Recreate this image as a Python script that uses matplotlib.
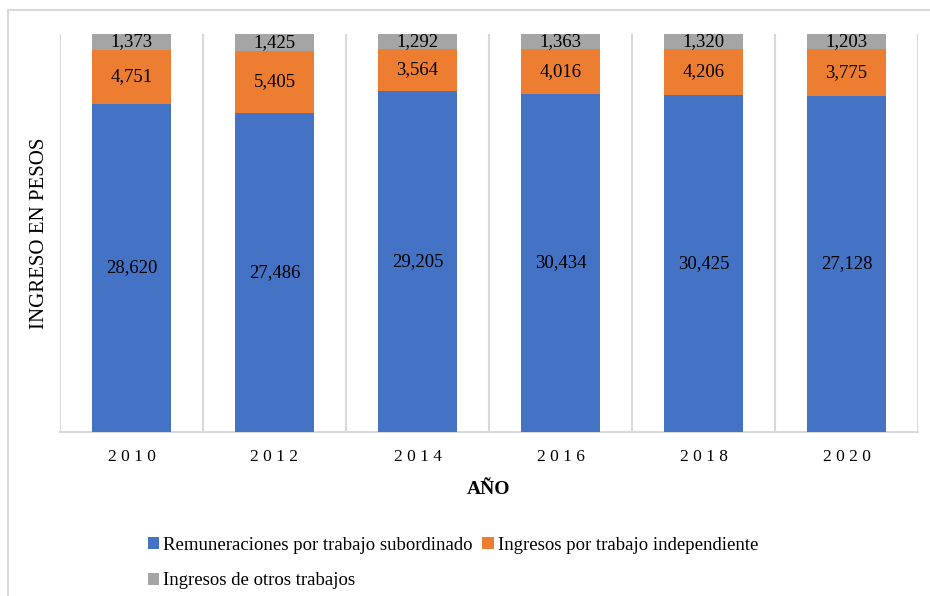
import matplotlib
matplotlib.use("Agg")
import matplotlib.pyplot as plt
from matplotlib.patches import Rectangle
import numpy as np

years = ["2010", "2012", "2014", "2016", "2018", "2020"]
remuneraciones = [28620, 27486, 29205, 30434, 30425, 27128]
independiente = [4751, 5405, 3564, 4016, 4206, 3775]
otros = [1373, 1425, 1292, 1363, 1320, 1203]

series_names = ["Remuneraciones por trabajo subordinado",
                "Ingresos por trabajo independiente",
                "Ingresos de otros trabajos"]
colors = ["#4472C4", "#ED7D31", "#A5A5A5"]

plt.rcParams["font.family"] = ["Liberation Serif", "DejaVu Serif"]

fig = plt.figure(figsize=(9.30, 5.96), dpi=100)
# outer chart frame
fig.patches.append(Rectangle((8/930, -0.1), 1.2, 1 - 10/596 + 0.1, transform=fig.transFigure,
                             fill=False, edgecolor="#D9D9D9", linewidth=1.5))

ax = fig.add_axes([60/930, 1 - 432/596, (918-60)/930, (432-34)/596])

data = np.array([remuneraciones, independiente, otros], dtype=float)
totals = data.sum(axis=0)
frac = data / totals
x = np.arange(len(years))
bottom = np.zeros(len(years))
bars = []
for i in range(3):
    b = ax.bar(x, frac[i], bottom=bottom, width=0.55, color=colors[i], label=series_names[i], zorder=3)
    bars.append(b)
    for j in range(len(years)):
        ax.text(x[j], bottom[j] + frac[i][j] / 2, f"{int(data[i][j]):,}", ha="center", va="center",
                fontsize=13.5, color="black", zorder=4)
    bottom += frac[i]

ax.set_xlim(-0.5, len(years) - 0.5)
ax.set_ylim(0, 1)
for bnd in np.arange(-0.5, len(years), 1.0):
    ax.axvline(bnd, color="#D9D9D9", linewidth=1.5, zorder=1)

for s in ["top", "right", "left"]:
    ax.spines[s].set_visible(False)
ax.spines["bottom"].set_color("#D9D9D9")
ax.spines["bottom"].set_linewidth(1.5)
ax.set_yticks([])
ax.set_xticks(x)
ax.set_xticklabels([" ".join(y) for y in years], fontsize=12.5)
ax.tick_params(axis="x", length=0, pad=12)

ax.set_xlabel("AÑO", fontsize=14, fontweight="bold", labelpad=12)
ax.set_ylabel("INGRESO EN PESOS", fontsize=15, labelpad=8)

order = [0, 2, 1]
fig.legend([bars[k] for k in order], [series_names[k] for k in order], loc="upper left",
           bbox_to_anchor=(140/930, 1 - 529/596), ncol=2,
           frameon=False, fontsize=13.5, handlelength=0.6, handleheight=0.6, handletextpad=0.25,
           columnspacing=0.5, labelspacing=1.0, borderaxespad=0)

fig.savefig("out.png", dpi=100)
